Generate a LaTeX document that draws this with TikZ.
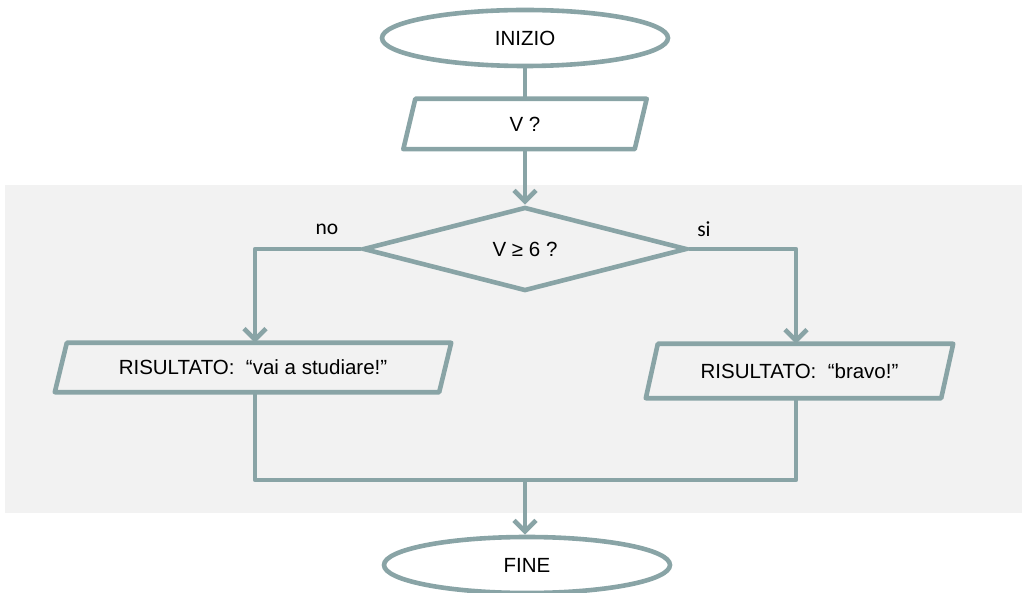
\documentclass[tikz,border=0pt]{standalone}
\usepackage{fontspec}
\setmainfont{Liberation Sans}
\newfontfamily\labelfont{Carlito}
\usetikzlibrary{shapes.geometric,arrows.meta}
\definecolor{flowline}{HTML}{89A4A6}
\definecolor{panel}{HTML}{F2F2F2}
\begin{document}
\begin{tikzpicture}[x=1pt,y=-1pt,
  every node/.style={font=\fontsize{20.5}{24}\selectfont},
  conn/.style={draw=flowline,line width=4.6pt,line join=round},
  arrowconn/.style={conn,-{Straight Barb[length=11pt,width=22pt]}},
  terminal/.style={ellipse,draw=flowline,line width=4.6pt,fill=white,
    minimum width=286pt,minimum height=56pt,inner sep=0pt},
  decision/.style={diamond,draw=flowline,line width=4.6pt,
    minimum width=324pt,minimum height=84pt,inner sep=0pt},
  iobox/.style={rectangle,inner sep=0pt,minimum height=50pt},
  branchlabel/.style={font=\labelfont\fontsize{21.5}{24}\selectfont}]
\useasboundingbox (0,0) rectangle (1022,593);
% shaded panel behind the decision
\fill[panel] (5,185) rectangle (1022,513);

% nodes
\node[terminal] (start) at (525,38) {INIZIO};
\node[iobox,minimum width=231pt] (v) at (525,124) {V ?};
\node[decision] (d) at (525,249) {V ≥ 6 ?};
\node[iobox,minimum width=384pt,minimum height=49pt] (lres) at (253,367.5) {RISULTATO:\ \ “vai a studiare!”};
\node[iobox,minimum width=295pt,minimum height=54pt] (rres) at (799.5,371) {RISULTATO:\ \ “bravo!”};
\node[terminal] (stop) at (527,565) {FINE};
\coordinate (join) at (525,480);

% parallelogram outlines around the input/output nodes
\draw[conn] ([xshift=6pt]v.north west) -- ([xshift=6pt]v.north east)
  -- ([xshift=-6pt]v.south east) -- ([xshift=-6pt]v.south west) -- cycle;
\draw[conn] ([xshift=6pt]lres.north west) -- ([xshift=6pt]lres.north east)
  -- ([xshift=-6pt]lres.south east) -- ([xshift=-6pt]lres.south west) -- cycle;
\draw[conn] ([xshift=6pt]rres.north west) -- ([xshift=6pt]rres.north east)
  -- ([xshift=-6pt]rres.south east) -- ([xshift=-6pt]rres.south west) -- cycle;

% connectors
\draw[conn] (start.south) -- (v.north);
\draw[arrowconn] (v.south) -- (d.north);
\draw[arrowconn] (d.west) -| ([xshift=2pt]lres.north);
\draw[arrowconn] (d.east) -| ([xshift=-3.5pt]rres.north);
\draw[conn] ([xshift=2pt]lres.south) |- (join) -| ([xshift=-3.5pt]rres.south);
\draw[arrowconn] (join) -- (stop.north -| join);

% branch labels
\node[branchlabel] (nolabel) at (327,229) {no};
\node[branchlabel] (silabel) at (704,229) {si};
\end{tikzpicture}
\end{document}
